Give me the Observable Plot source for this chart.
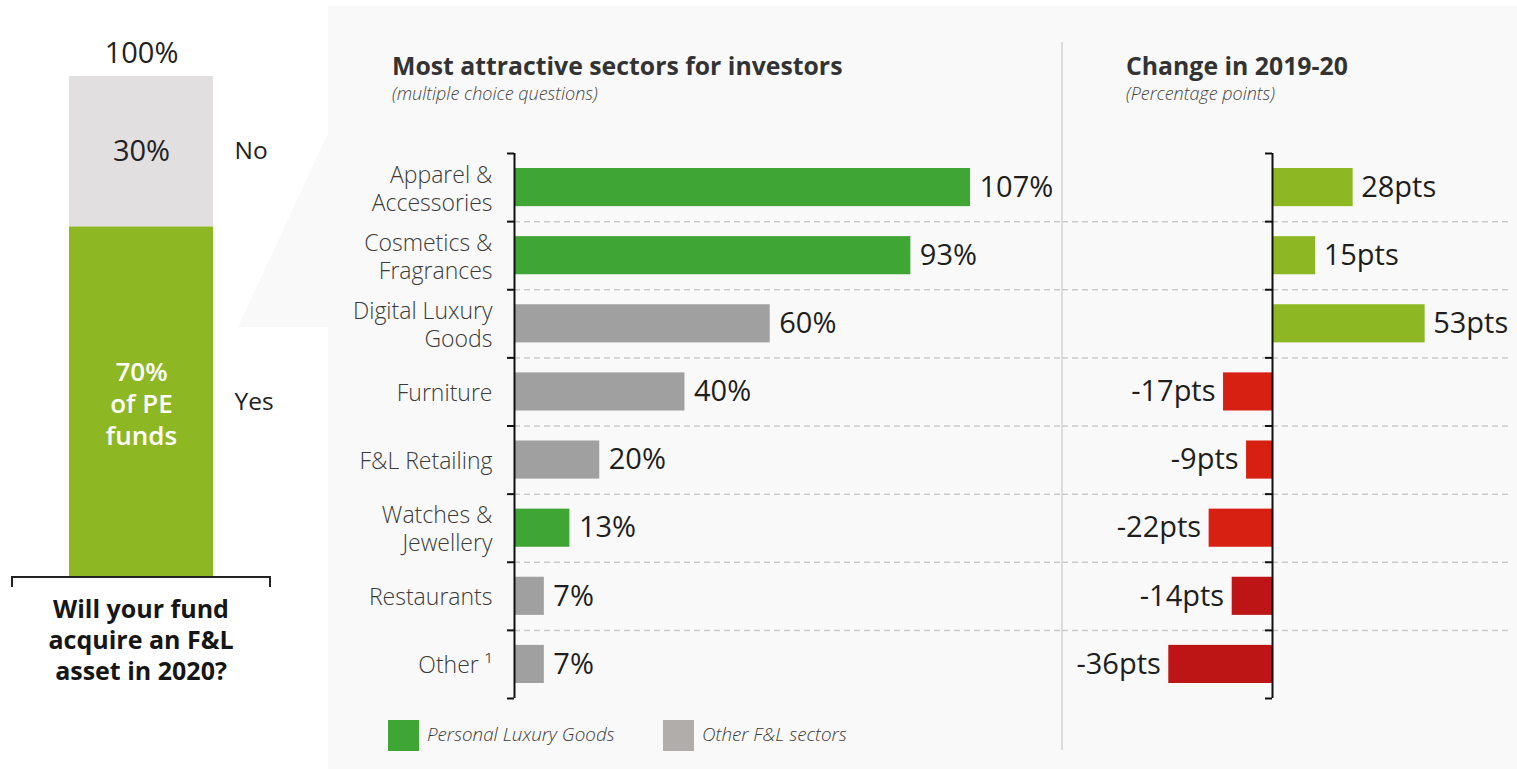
<!DOCTYPE html>
<html>
<head>
<meta charset="utf-8">
<script src="https://cdn.jsdelivr.net/npm/d3@7"></script>
<script src="https://cdn.jsdelivr.net/npm/@observablehq/plot@0.6"></script>
<style>
  html, body { margin: 0; padding: 0; background: #fff; }
  body { width: 1517px; height: 769px; position: relative; overflow: hidden; font-family: "Open Sans", sans-serif; }
  .abs { position: absolute; }
  #panel { left: 328px; top: 6px; width: 1189px; height: 763px; background: #f9f9f9; }
  #funnel { left: 236px; top: 131px; width: 94px; height: 197px; background: #f9f9f9;
            clip-path: polygon(2px 196px, 92px 2px, 94px 2px, 94px 196px); }
  #divider { left: 1061px; top: 42px; width: 1.5px; height: 708px; background: #dcdcdc; }
  .title { font-weight: 700; font-size: 24.8px; color: #333; white-space: nowrap; }
  .sub { font-style: italic; font-weight: 300; font-size: 18px; color: #444; white-space: nowrap; }
  #bracket { left: 11px; top: 576px; width: 256px; height: 9px; border-top: 2px solid #222; border-left: 2px solid #222; border-right: 2px solid #222; }
  #question { left: 0px; top: 593px; width: 282px; text-align: center; font-weight: 700; font-size: 25px; line-height: 31px; color: #161616; }
  .legend { font-style: italic; font-size: 18.8px; font-weight: 300; color: #3a3a3a; display: flex; align-items: center; white-space: nowrap; }
  .legend span.t { position: relative; top: -2px; }
  .sw { width: 31px; height: 31px; margin-right: 8px; display: inline-block; }
</style>
</head>
<body>
<div id="panel" class="abs"></div>
<div id="funnel" class="abs"></div>
<div id="divider" class="abs"></div>

<div class="abs title" style="left:392px; top:48px;">Most attractive sectors for investors</div>
<div class="abs sub" style="left:392px; top:81px;">(multiple choice questions)</div>
<div class="abs title" style="left:1126px; top:48px;">Change in 2019-20</div>
<div class="abs sub" style="left:1126px; top:81px;">(Percentage points)</div>

<div id="leftChart" class="abs" style="left:0px; top:0px;"></div>
<div id="bracket" class="abs"></div>
<div id="question" class="abs">Will your fund<br>acquire an F&amp;L<br>asset in 2020?</div>

<div id="midChart" class="abs" style="left:328px; top:140px;"></div>
<div id="rightChart" class="abs" style="left:1062px; top:140px;"></div>

<div id="legend" class="abs" style="left:388px; top:720px;"></div>

<script>
// ---------------- DATA ----------------
// Left: will your fund acquire an F&L asset in 2020?
const answers = ["Yes", "No"];
const answerShares = [70, 30];
const fundLabel = "PE funds";

// Middle: most attractive sectors (multiple choice)
const sectors = [
  "Apparel &\nAccessories",
  "Cosmetics &\nFragrances",
  "Digital Luxury\nGoods",
  "Furniture",
  "F&L Retailing",
  "Watches &\nJewellery",
  "Restaurants",
  "Other \u00B9"
];
const sectorShares = [107, 93, 60, 40, 20, 13, 7, 7];
const sectorGroups = [
  "Personal Luxury Goods", "Personal Luxury Goods", "Other F&L sectors", "Other F&L sectors",
  "Other F&L sectors", "Personal Luxury Goods", "Other F&L sectors", "Other F&L sectors"
];
// Right: change in 2019-20 (percentage points)
const changePts = [28, 15, 53, -17, -9, -22, -14, -36];

const groupNames = ["Personal Luxury Goods", "Other F&L sectors"];

// ---------------- TABLES ----------------
const fundData = answers.map((a, i) => ({answer: a, value: answerShares[i], key: fundLabel}));
const total = d3.sum(answerShares);
const sectorData = sectors.map((s, i) => ({
  i, sector: s, value: sectorShares[i], group: sectorGroups[i], change: changePts[i]
}));

const font = {fontFamily: "'Open Sans', sans-serif", background: "transparent", overflow: "visible"};

// ---------------- LEFT CHART ----------------
const left = Plot.plot({
  width: 330, height: 600,
  marginTop: 76, marginBottom: 23, marginLeft: 69, marginRight: 117,
  style: font,
  x: {domain: [fundLabel], padding: 0, axis: null},
  y: {domain: [0, total], axis: null},
  color: {domain: answers, range: ["#8db824", "#e1dfe0"]},
  marks: [
    Plot.barY(fundData, {x: "key", y: "value", fill: "answer"}),
    Plot.text([{key: fundLabel, total}], {x: "key", y: "total", text: d => `${d.total}%`, dy: -23, fontSize: 29, fill: "#222"}),
    Plot.text(fundData, Plot.stackY({x: "key", y: "value",
      text: d => d.answer === "No" ? `${d.value}%` : "",
      fontSize: 29, fill: "#222"})),
    Plot.text(fundData, Plot.stackY({x: "key", y: "value",
      text: d => d.answer === "Yes" ? `${d.value}%\nof PE\nfunds` : "",
      fontSize: 26, fontWeight: 600, fill: "#fff", lineHeight: 1.23, dy: 1})),
    Plot.text(fundData, Plot.stackY({x: "key", y: "value", text: "answer",
      textAnchor: "start", dx: 93, fontSize: 24.5, fill: "#222"}))
  ]
});
document.getElementById("leftChart").append(left);

// ---------------- MIDDLE CHART ----------------
const midW = 734, midML = 186, pxPerPct = 4.262;
const mid = Plot.plot({
  width: midW, height: 570,
  marginTop: 13, marginBottom: 12, marginLeft: midML, marginRight: 0,
  style: font,
  x: {domain: [0, (midW - midML) / pxPerPct], axis: null},
  y: {domain: [0, sectors.length], reverse: true, axis: null},
  color: {domain: groupNames, range: ["#3fa535", "#a0a0a0"]},
  marks: [
    Plot.ruleY(d3.range(1, sectors.length), {stroke: "#cbcbcb", strokeWidth: 1.5, strokeDasharray: "6,4"}),
    Plot.rect(sectorData, {x1: 0, x2: "value", y1: "i", y2: d => d.i + 1, insetTop: 15, insetBottom: 15, fill: "group"}),
    Plot.ruleY(d3.range(0, sectors.length + 1), {x1: -7 / pxPerPct, x2: 0, stroke: "#111", strokeWidth: 2}),
    Plot.ruleX([0], {stroke: "#111", strokeWidth: 2}),
    Plot.text(sectorData, {x: 0, y: d => d.i + 0.5, text: "sector", textAnchor: "end", dx: -22,
      fontSize: 23, fontWeight: 300, fill: "#3a3a3a", lineHeight: 1.22}),
    Plot.text(sectorData, {x: "value", y: d => d.i + 0.5, text: d => `${d.value}%`, textAnchor: "start", dx: 9,
      fontSize: 29, fill: "#1e1e1e"})
  ]
});
document.getElementById("midChart").append(mid);

// ---------------- RIGHT CHART ----------------
const rW = 455, rMR = 7, pxPerPt = 2.88, axisOffset = 210;
const darkReds = new Set(["Restaurants", "Other \u00B9"]);
const right = Plot.plot({
  width: rW, height: 570,
  marginTop: 13, marginBottom: 12, marginLeft: 0, marginRight: rMR,
  style: font,
  x: {domain: [-axisOffset / pxPerPt, (rW - rMR - axisOffset) / pxPerPt], axis: null},
  y: {domain: [0, sectors.length], reverse: true, axis: null},
  marks: [
    Plot.ruleY(d3.range(1, sectors.length), {stroke: "#cbcbcb", strokeWidth: 1.5, strokeDasharray: "6,4"}),
    Plot.rect(sectorData, {x1: 0, x2: "change", y1: "i", y2: d => d.i + 1, insetTop: 15, insetBottom: 15,
      fill: d => d.change >= 0 ? "#8db824" : (darkReds.has(d.sector) ? "#bd1516" : "#d71f12")}),
    Plot.ruleY(d3.range(0, sectors.length + 1), {x1: -7 / pxPerPt, x2: 0, stroke: "#111", strokeWidth: 2}),
    Plot.ruleX([0], {stroke: "#111", strokeWidth: 2}),
    Plot.text(sectorData.filter(d => d.change >= 0), {x: "change", y: d => d.i + 0.5, text: d => `${d.change}pts`,
      textAnchor: "start", dx: 8, fontSize: 29, fill: "#1e1e1e"}),
    Plot.text(sectorData.filter(d => d.change < 0), {x: "change", y: d => d.i + 0.5, text: d => `${d.change}pts`,
      textAnchor: "end", dx: -8, fontSize: 29, fill: "#1e1e1e"})
  ]
});
document.getElementById("rightChart").append(right);

// ---------------- LEGEND ----------------
const legendColors = {"Personal Luxury Goods": "#3fa535", "Other F&L sectors": "#b0adaa"};
const lg = document.getElementById("legend");
groupNames.forEach((g, k) => {
  const item = document.createElement("div");
  item.className = "abs legend";
  item.style.left = (k * 275) + "px";
  item.style.top = "0px";
  item.innerHTML = `<span class="sw" style="background:${legendColors[g]}"></span><span class="t">${g}</span>`;
  lg.append(item);
});
</script>
</body>
</html>
